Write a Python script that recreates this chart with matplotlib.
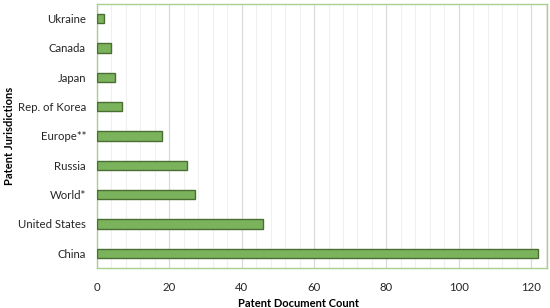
import numpy as np
import matplotlib.pyplot as plt
from matplotlib.ticker import MultipleLocator

plt.rcParams['font.family'] = ['Lato', 'DejaVu Sans']

jurisdictions = ['Ukraine', 'Canada', 'Japan', 'Rep. of Korea', 'Europe**',
                 'Russia', 'World*', 'United States', 'China']
counts = [2, 4, 5, 7, 18, 25, 27, 46, 122]

fig = plt.figure(figsize=(5.5, 3.08), dpi=100)
ax = fig.add_axes([97 / 550, 1 - 268 / 308, 450 / 550, 264 / 308])

y = np.arange(len(jurisdictions))
ax.barh(y, counts, height=0.31, color='#7BB35C', edgecolor='#4B6E33',
        linewidth=1.0, zorder=3)

ax.set_ylim(len(jurisdictions) - 0.5, -0.5)
ax.set_yticks(y)
ax.set_yticklabels(jurisdictions)
ax.set_xlim(0, 124.4)
ax.xaxis.set_major_locator(MultipleLocator(20))
ax.xaxis.set_minor_locator(MultipleLocator(4))
ax.grid(axis='x', which='major', color='#DADADA', linewidth=0.9, zorder=0)
ax.grid(axis='x', which='minor', color='#F0F0F0', linewidth=0.8, zorder=0)

for s in ax.spines.values():
    s.set_color('#A9D18E')
    s.set_linewidth(1.0)

ax.tick_params(axis='both', which='both', length=0, labelsize=8.2, colors='#262626')
ax.tick_params(axis='x', pad=10)
ax.tick_params(axis='y', pad=8)

ax.set_xlabel('Patent Document Count', fontsize=8, fontweight='bold')
ax.xaxis.set_label_coords(0.447, -0.115)
ax.set_ylabel('Patent Jurisdictions', fontsize=8, fontweight='bold')
ax.yaxis.set_label_coords(-0.182, 0.5)

fig.savefig('out.png', dpi=100)
